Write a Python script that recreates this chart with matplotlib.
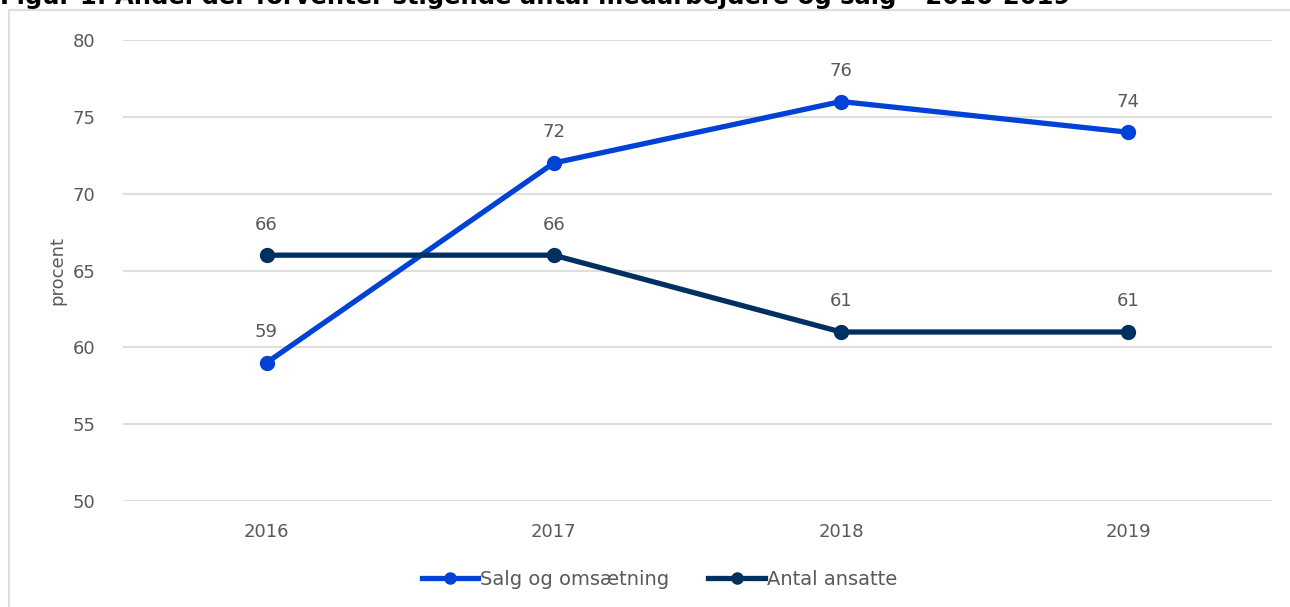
import matplotlib.pyplot as plt
from matplotlib.patches import Rectangle

# data
years = ['2016', '2017', '2018', '2019']
salg = [59, 72, 76, 74]
ansatte = [66, 66, 61, 61]

#Colours and text style
blue = '#0041d6'
navy = '#00305f'
grey_txt = '#595959'
grid_col = '#dedede'
plt.rcParams['font.family'] = ['DejaVu Sans']

fig = plt.figure(figsize=(12.9, 6.07), dpi=100)
ax = fig.add_axes([0.0953, 0.1746, 0.8907, 0.7594])

x = range(len(years))
ax.plot(x, salg, color=blue, lw=3.8, marker='o', ms=10, label='Salg og omsætning', zorder=3)
ax.plot(x, ansatte, color=navy, lw=3.8, marker='o', ms=10, label='Antal ansatte', zorder=3)

#Data labels above points
for series in (salg, ansatte):
    for i, v in enumerate(series):
        ax.annotate(str(v), (i, v), xytext=(0, 22), textcoords='offset points',
                    ha='center', va='center', fontsize=13, color=grey_txt)

ax.set_xlim(-0.5, 3.5)
ax.set_ylim(50, 80)
ax.set_yticks(range(50, 81, 5))
ax.set_xticks(list(x))
ax.set_xticklabels(years)
ax.grid(axis='y', color=grid_col, lw=1.5)
ax.set_axisbelow(True)
for s in ax.spines.values():
    s.set_visible(False)
ax.tick_params(length=0, labelsize=13, colors=grey_txt)
ax.tick_params(axis='y', pad=20)
ax.tick_params(axis='x', pad=16)
ax.set_ylabel('procent', fontsize=13, color=grey_txt, labelpad=4)

leg = ax.legend(loc='center', bbox_to_anchor=(0.467, -0.17), ncol=2, frameon=False,
                fontsize=14, handlelength=2.9, handletextpad=0.1, columnspacing=2.0)
for t in leg.get_texts():
    t.set_color(grey_txt)
for h in leg.legend_handles:
    h.set_markersize(8)

#Outer frame and clipped title
fig.patches.append(Rectangle((9 / 1290, -0.05), 1.1, 1.05 - 10 / 607,
                             transform=fig.transFigure, fill=False,
                             edgecolor=grid_col, lw=1.5))
fig.text(0.0, 1 - 4 / 607, 'Figur 1: Andel der forventer stigende antal medarbejdere og salg – 2016-2019',
         fontsize=17.5, fontweight='bold', color='black', va='baseline', ha='left')

fig.savefig('out.png', dpi=100)
